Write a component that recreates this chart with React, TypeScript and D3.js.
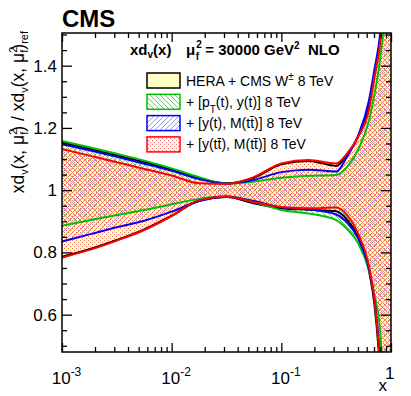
import React, { useEffect, useRef } from 'react';
import * as d3 from 'd3';

// x grid (log spaced), and the ratio bands
const xGrid = [0.001, 0.001778, 0.003162, 0.005623, 0.01, 0.01778, 0.03162, 0.05623, 0.1, 0.1778, 0.3162, 0.3981, 0.5012, 0.631, 0.7079, 0.7943, 0.8913, 1];

const heraUp = [1.153, 1.133, 1.112, 1.09, 1.066, 1.038, 1.022, 1.04, 1.083, 1.094, 1.078, 1.115, 1.172, 1.27, 1.37, 1.48, 1.7, 2.5];
const heraDn = [0.786, 0.81, 0.84, 0.874, 0.918, 0.966, 0.978, 0.958, 0.942, 0.937, 0.932, 0.905, 0.85, 0.74, 0.63, 0.42, 0.05, -0.5];
const ptyUp = [1.158, 1.138, 1.117, 1.095, 1.07, 1.042, 1.021, 1.028, 1.04, 1.046, 1.049, 1.075, 1.13, 1.225, 1.31, 1.42, 1.62, 2.4];
const ptyDn = [0.886, 0.903, 0.92, 0.936, 0.955, 0.972, 0.981, 0.962, 0.936, 0.925, 0.904, 0.875, 0.83, 0.74, 0.66, 0.55, 0.2, -0.5];
const ymUp = [1.148, 1.128, 1.107, 1.085, 1.062, 1.036, 1.021, 1.033, 1.058, 1.066, 1.06, 1.108, 1.175, 1.29, 1.39, 1.5, 1.75, 2.6];
const ymDn = [0.835, 0.858, 0.881, 0.902, 0.931, 0.965, 0.979, 0.965, 0.945, 0.938, 0.922, 0.895, 0.845, 0.745, 0.645, 0.46, 0.1, -0.5];
const yttUp = [1.132, 1.111, 1.09, 1.068, 1.047, 1.022, 1.02, 1.042, 1.086, 1.097, 1.086, 1.118, 1.172, 1.26, 1.365, 1.473, 1.7, 2.5];
const yttDn = [0.783, 0.808, 0.838, 0.872, 0.917, 0.968, 0.979, 0.962, 0.946, 0.942, 0.944, 0.92, 0.86, 0.754, 0.647, 0.44, 0.1, -0.5];

const yMajor = [0.6, 0.8, 1, 1.2, 1.4];
const yMajorLabels = ['0.6', '0.8', '1', '1.2', '1.4'];
const xMajor = [0.001, 0.01, 0.1, 1];
const xMajorExp = ['-3', '-2', '-1', ''];

const FONT = '"Liberation Sans", Arial, Helvetica, sans-serif';

const App = () => {
  const ref = useRef(null);

  useEffect(() => {
    const W = 411, H = 396;
    const L = 62, R = 391, T = 33, B = 352;
    const svg = d3.select(ref.current).attr('width', W).attr('height', H);
    svg.selectAll('*').remove();

    const x = d3.scaleLog().domain([0.001, 1]).range([L, R]);
    const y = d3.scaleLinear().domain([0.48, 1.505]).range([B, T]);

    const defs = svg.append('defs');
    defs.append('clipPath').attr('id', 'frame')
      .append('rect').attr('x', L).attr('y', T).attr('width', R - L).attr('height', B - T);

    const pGreen = defs.append('pattern').attr('id', 'hatchG').attr('patternUnits', 'userSpaceOnUse')
      .attr('width', 5).attr('height', 5);
    pGreen.append('path').attr('d', 'M-1,-1 L6,6 M-1,4 L1,6 M4,-1 L6,1')
      .attr('stroke', '#6cc86c').attr('stroke-width', 1);
    const pBlue = defs.append('pattern').attr('id', 'hatchB').attr('patternUnits', 'userSpaceOnUse')
      .attr('width', 5).attr('height', 5);
    pBlue.append('path').attr('d', 'M-1,6 L6,-1 M-1,1 L1,-1 M4,6 L6,4')
      .attr('stroke', '#9a9ae0').attr('stroke-width', 1);
    const pRed = defs.append('pattern').attr('id', 'dotsR').attr('patternUnits', 'userSpaceOnUse')
      .attr('width', 4).attr('height', 4);
    pRed.append('rect').attr('x', 0).attr('y', 0).attr('width', 1).attr('height', 1).attr('fill', '#ff7070');
    pRed.append('rect').attr('x', 2).attr('y', 2).attr('width', 1).attr('height', 1).attr('fill', '#ff7070');

    const bands = [
      { up: heraUp, dn: heraDn, fill: '#ffffc4', col: '#000000' },
      { up: ptyUp, dn: ptyDn, fill: 'url(#hatchG)', col: '#00c000' },
      { up: ymUp, dn: ymDn, fill: 'url(#hatchB)', col: '#0000ff' },
      { up: yttUp, dn: yttDn, fill: 'url(#dotsR)', col: '#ff0000' },
    ];

    const plot = svg.append('g').attr('clip-path', 'url(#frame)');
    const area = d3.area<number>()
      .x((d, i) => x(xGrid[i]))
      .curve(d3.curveMonotoneX);
    const line = d3.line<number>()
      .x((d, i) => x(xGrid[i]))
      .y(d => y(d))
      .curve(d3.curveMonotoneX);

    bands.forEach(b => {
      plot.append('path')
        .attr('d', area.y0((d, i) => y(b.dn[i])).y1((d, i) => y(b.up[i]))(b.up))
        .attr('fill', b.fill);
    });
    bands.forEach(b => {
      [b.up, b.dn].forEach(arr => {
        plot.append('path').attr('d', line(arr)).attr('fill', 'none')
          .attr('stroke', b.col).attr('stroke-width', 2);
      });
    });

    // axes, ROOT style ticks inside the frame
    const yMinor = d3.range(0.5, 1.501, 0.05).filter(v => !yMajor.some(m => Math.abs(m - v) < 1e-6));
    const xMinor: number[] = [];
    [0.001, 0.01, 0.1].forEach(dec => d3.range(2, 10).forEach(k => xMinor.push(dec * k)));

    const axL = svg.append('g').attr('transform', `translate(${L},0)`)
      .call(d3.axisLeft(y).tickValues(yMajor).tickSize(-10).tickPadding(5)
        .tickFormat((d, i) => yMajorLabels[i]));
    axL.selectAll('text').attr('font-size', 17).attr('font-family', FONT).attr('fill', '#000');
    svg.append('g').attr('transform', `translate(${L},0)`)
      .call(d3.axisLeft(y).tickValues(yMinor).tickSize(-5).tickFormat(() => ''));
    svg.append('g').attr('transform', `translate(${R},0)`)
      .call(d3.axisRight(y).tickValues(yMajor).tickSize(-10).tickFormat(() => ''));
    svg.append('g').attr('transform', `translate(${R},0)`)
      .call(d3.axisRight(y).tickValues(yMinor).tickSize(-5).tickFormat(() => ''));

    const axB = svg.append('g').attr('transform', `translate(0,${B})`)
      .call(d3.axisBottom(x).tickValues(xMajor).tickSize(-9).tickFormat(() => ''));
    svg.append('g').attr('transform', `translate(0,${B})`)
      .call(d3.axisBottom(x).tickValues(xMinor).tickSize(-5).tickFormat(() => ''));
    svg.append('g').attr('transform', `translate(0,${T})`)
      .call(d3.axisTop(x).tickValues(xMajor).tickSize(-9).tickFormat(() => ''));
    svg.append('g').attr('transform', `translate(0,${T})`)
      .call(d3.axisTop(x).tickValues(xMinor).tickSize(-5).tickFormat(() => ''));

    axB.selectAll('.tick text').each(function (d, i) {
      const t = d3.select(this).attr('font-size', 17).attr('font-family', FONT).attr('fill', '#000')
        .attr('dy', null).attr('y', 32);
      if (xMajorExp[i]) {
        t.attr('dx', 4);
        t.append('tspan').text('10');
        t.append('tspan').attr('font-size', 12).attr('dy', -8).text(xMajorExp[i]);
      } else {
        t.attr('text-anchor', 'end').attr('dx', 3).attr('y', 27).text('1');
      }
    });

    svg.selectAll('.domain').remove();
    svg.selectAll('.tick line').attr('stroke', '#000').attr('stroke-width', 1.3);

    svg.append('rect').attr('x', L).attr('y', T).attr('width', R - L).attr('height', B - T)
      .attr('fill', 'none').attr('stroke', '#000').attr('stroke-width', 1.5);

    // x axis title
    svg.append('text').attr('x', R - 4).attr('y', 391).attr('text-anchor', 'end')
      .attr('font-family', FONT).attr('font-size', 17).text('x');

    // y axis title
    const yt = svg.append('text').attr('transform', `translate(24,${T - 2}) rotate(-90)`)
      .attr('text-anchor', 'end').attr('font-family', FONT).attr('font-size', 17.5);
    yt.append('tspan').text('xd');
    yt.append('tspan').attr('font-size', 11).attr('dy', 4).text('v');
    yt.append('tspan').attr('dy', -4).text('(x, μ');
    yt.append('tspan').attr('font-size', 11).attr('dy', -7).text('2');
    yt.append('tspan').attr('font-size', 11).attr('dy', 11).attr('dx', -6).text('f');
    yt.append('tspan').attr('dy', -4).text(') / xd');
    yt.append('tspan').attr('font-size', 11).attr('dy', 4).text('v');
    yt.append('tspan').attr('dy', -4).text('(x, μ');
    yt.append('tspan').attr('font-size', 11).attr('dy', -7).text('2');
    yt.append('tspan').attr('font-size', 11).attr('dy', 11).attr('dx', -6).text('f');
    yt.append('tspan').attr('dy', -4).text(')');
    yt.append('tspan').attr('font-size', 11).attr('dy', 4).text('ref');

    // CMS label
    svg.append('text').attr('x', L).attr('y', 27).attr('font-family', FONT)
      .attr('font-weight', 'bold').attr('font-size', 24).text('CMS');

    // header
    const h1 = svg.append('text').attr('x', 130).attr('y', 55).attr('font-family', FONT)
      .attr('font-weight', 'bold').attr('font-size', 15);
    h1.append('tspan').text('xd');
    h1.append('tspan').attr('font-size', 10).attr('dy', 3).text('v');
    h1.append('tspan').attr('dy', -3).text('(x)');
    const h2 = svg.append('text').attr('x', 186).attr('y', 55).attr('font-family', FONT)
      .attr('font-weight', 'bold').attr('font-size', 15).attr('xml:space', 'preserve');
    h2.append('tspan').text('μ');
    h2.append('tspan').attr('font-size', 10).attr('dy', -7).attr('dx', 1).text('2');
    h2.append('tspan').attr('font-size', 10).attr('dy', 12).attr('dx', -6).text('f');
    h2.append('tspan').attr('dy', -5).attr('dx', 2).text(' = 30000 GeV');
    h2.append('tspan').attr('font-size', 10).attr('dy', -6).text('2');
    h2.append('tspan').attr('dy', 6).text('  NLO');

    // legend
    const legend = [
      { fill: '#ffffc4', col: '#000000', parts: [['HERA + CMS W', 0], ['±', -1], [' 8 TeV', 0]] },
      { fill: 'url(#hatchG)', col: '#00c000', parts: [['+ [p', 0], ['T', 1], ['(t), y(t)] 8 TeV', 0]] },
      { fill: 'url(#hatchB)', col: '#0000ff', parts: [['+ [y(t), M(tt\u0304)] 8 TeV', 0]] },
      { fill: 'url(#dotsR)', col: '#ff0000', parts: [['+ [y(tt\u0304), M(tt\u0304)] 8 TeV', 0]] },
    ];
    legend.forEach((e, i) => {
      const cy = 80.5 + i * 21.3;
      svg.append('rect').attr('x', 147).attr('y', cy - 7.5).attr('width', 33).attr('height', 15)
        .attr('fill', '#fff');
      svg.append('rect').attr('x', 147).attr('y', cy - 7.5).attr('width', 33).attr('height', 15)
        .attr('fill', e.fill).attr('stroke', e.col).attr('stroke-width', 1.5);
      const t = svg.append('text').attr('x', 186).attr('y', cy + 5).attr('font-family', FONT)
        .attr('font-size', 14).attr('xml:space', 'preserve');
      let prev = 0;
      e.parts.forEach(([s, shift]) => {
        const sh = shift as number;
        const dy = sh * 6 - prev * 6;
        const sp = t.append('tspan').attr('dy', dy).text(s as string);
        if (sh !== 0) sp.attr('font-size', 10);
        prev = sh;
      });
    });
  }, []);

  return (
    <div style={{ position: 'absolute', left: 0, top: 0 }}>
      <svg ref={ref}></svg>
    </div>
  );
};

export default App;
